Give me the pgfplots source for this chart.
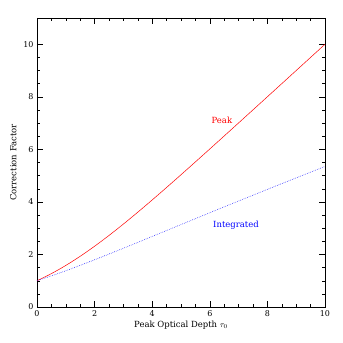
\documentclass[border=0pt]{standalone}
\usepackage{fontspec}
\setmainfont{DejaVu Serif}
\usepackage{pgfplots}
\pgfplotsset{compat=1.18}
\begin{document}
\begin{tikzpicture}
\begin{axis}[
  scale only axis,
  width=288bp, height=289bp,
  xmin=0, xmax=10, ymin=0, ymax=11,
  xtick={0,2,...,10}, ytick={0,2,...,10},
  minor x tick num=3, minor y tick num=3,
  tick align=inside,
  major tick length=6bp, minor tick length=3bp,
  axis line style={black, line width=0.5pt},
  tick style={black, line width=0.4pt},
  /pgf/number format/assume math mode=true,
  tick label style={font=\fontsize{8}{9}\selectfont},
  label style={font=\fontsize{8.5}{10}\selectfont},
  xlabel={Peak Optical Depth $\tau_0$},
  ylabel={Correction Factor},
  xlabel style={yshift=2bp},
  ylabel style={yshift=0bp},
]
\addplot[red, line width=0.5pt, smooth] coordinates {
(0,1)(0.5,1.2707)(1,1.5820)(1.5,1.9308)(2,2.3130)(2.5,2.7236)(3,3.1572)
(3.5,3.6090)(4,4.0746)(4.5,4.5505)(5,5.0339)(5.5,5.5226)(6,6.0149)
(6.5,6.5098)(7,7.0064)(7.5,7.5041)(8,8.0027)(8.5,8.5017)(9,9.0011)
(9.5,9.5007)(10,10.0005)};
\addplot[blue, line width=0.5pt, dash pattern=on 0.6pt off 1.2pt, smooth] coordinates {
(0,1)(0.5,1.186)(1,1.379)(1.5,1.586)(2,1.797)(2.5,2.015)(3,2.2365)
(3.5,2.460)(4,2.686)(4.5,2.911)(5,3.1375)(6,3.588)(7,4.034)(8,4.477)
(9,4.915)(10,5.349)};
\node[red, font=\fontsize{8.5}{10}\selectfont] at (axis cs:6.42,7.12) {Peak};
\node[blue, font=\fontsize{8.5}{10}\selectfont] at (axis cs:6.91,3.12) {Integrated};
\end{axis}
\path (current axis.south west) +(-37bp,-36bp) (current axis.north east) +(18bp,18bp);
\end{tikzpicture}
\end{document}
